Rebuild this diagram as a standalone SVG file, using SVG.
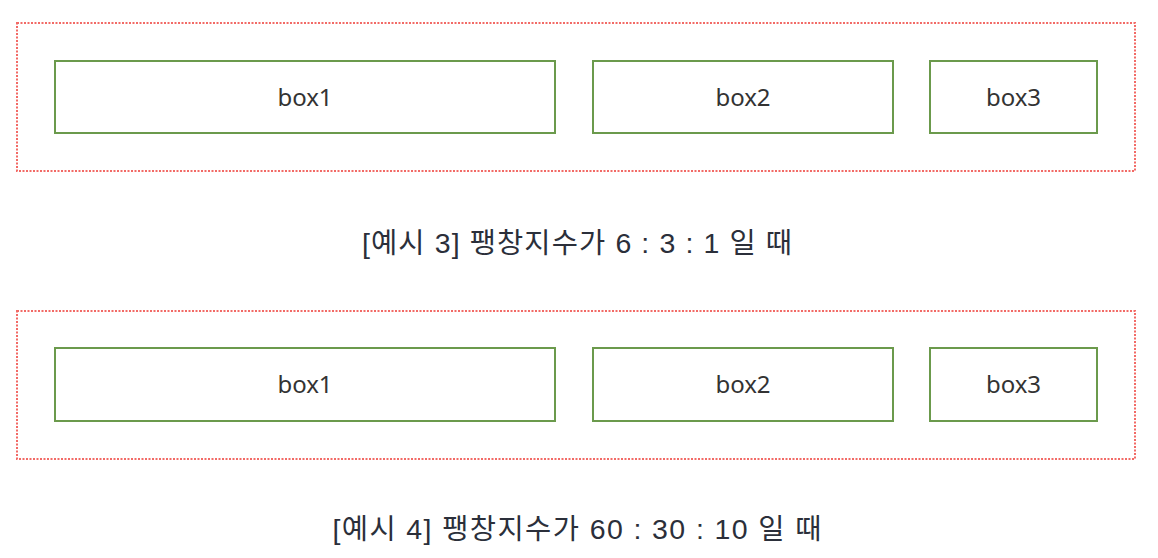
<svg xmlns="http://www.w3.org/2000/svg" width="1158" height="558" viewBox="0 0 1158 558">
<style>
.outer{fill:none;stroke:#f26a66;stroke-width:2;stroke-dasharray:2 1.5}
.box{fill:#fff;stroke:#6b9a4c;stroke-width:2}
.bt{font-family:"Noto Sans","Liberation Sans",sans-serif;font-size:24px;fill:#333;text-anchor:middle;dominant-baseline:central}
.cap{font-family:"Liberation Sans","Noto Sans CJK KR",sans-serif;font-size:28.5px;fill:#2b2f3a;text-anchor:middle}
</style>
<rect width="1158" height="558" fill="#fff"/>
<g id="ex3">
<rect class="outer" x="17" y="23" width="1118" height="148"/>
<g id="ex3-box1"><rect class="box" x="55" y="61" width="500" height="72"/><text class="bt" x="305" y="96">box1</text></g>
<g id="ex3-box2"><rect class="box" x="593" y="61" width="300" height="72"/><text class="bt" x="743" y="96">box2</text></g>
<g id="ex3-box3"><rect class="box" x="930" y="61" width="167" height="72"/><text class="bt" x="1013.5" y="96">box3</text></g>
</g>
<g id="caption3"><text class="cap" x="577" y="253" textLength="430" lengthAdjust="spacing">[예시 3] 팽창지수가 6 : 3 : 1 일 때</text></g>
<g id="ex4">
<rect class="outer" x="17" y="311" width="1118" height="148"/>
<g id="ex4-box1"><rect class="box" x="55" y="348" width="500" height="73"/><text class="bt" x="305" y="383.5">box1</text></g>
<g id="ex4-box2"><rect class="box" x="593" y="348" width="300" height="73"/><text class="bt" x="743" y="383.5">box2</text></g>
<g id="ex4-box3"><rect class="box" x="930" y="348" width="167" height="73"/><text class="bt" x="1013.5" y="383.5">box3</text></g>
</g>
<g id="caption4"><text class="cap" x="577" y="539" textLength="489" lengthAdjust="spacing">[예시 4] 팽창지수가 60 : 30 : 10 일 때</text></g>
<g id="connectors"/>
</svg>
